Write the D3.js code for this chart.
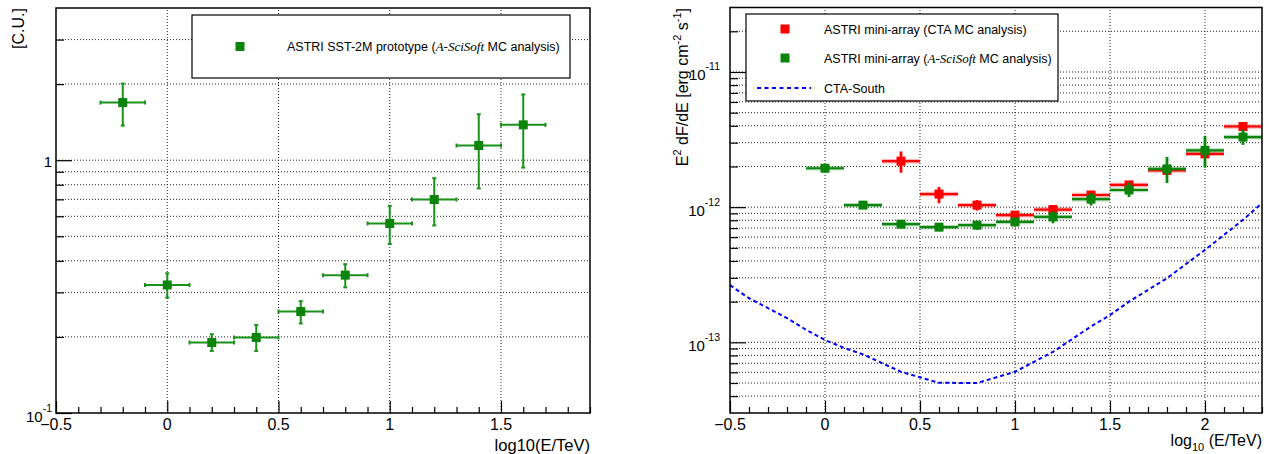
<!DOCTYPE html>
<html lang="en">
<head>
<meta charset="UTF-8">
<title>ASTRI sensitivity</title>
<script src="https://d3js.org/d3.v7.min.js"></script>
<style>
  body { margin: 0; background: #fff; }
  svg { display: block; font-family: 'Liberation Sans', Arial, sans-serif; }
  .grid { stroke: #222; stroke-width: 1; stroke-dasharray: 1,2; fill: none; }
  .frame { fill: none; stroke: #000; stroke-width: 1.5; }
  .tick line { stroke: #000; stroke-width: 1.2; }
  .lbl { font-size: 16px; fill: #000; }
  .leg { font-size: 12.5px; fill: #000; }
  .it { font-family: 'Liberation Serif', 'DejaVu Serif', serif; font-style: italic; font-size: 13px; }
</style>
</head>
<body>
<svg width="1269" height="454"></svg>
<script>
// ---- left panel: crab rate in C.U.
const leftE = [-0.2, 0, 0.2, 0.4, 0.6, 0.8, 1.0, 1.2, 1.4, 1.6];
const leftCU = [1.69, 0.321, 0.190, 0.199, 0.252, 0.351, 0.562, 0.699, 1.143, 1.38];
const leftLow = [1.37, 0.286, 0.176, 0.176, 0.226, 0.314, 0.466, 0.552, 0.773, 0.935];
const leftHigh = [2.01, 0.357, 0.205, 0.223, 0.277, 0.388, 0.660, 0.849, 1.52, 1.82];
const binHalf = 0.1;

// ---- right panel: E^2 dF/dE in units of 1e-12 erg cm-2 s-1
const ctaMcE = [0.4, 0.6, 0.8, 1.0, 1.2, 1.4, 1.6, 1.8, 2.0, 2.2];
const ctaMcF = [2.19, 1.25, 1.035, 0.873, 0.96, 1.23, 1.46, 1.87, 2.48, 3.95];
const ctaMcLow = [1.80, 1.07, 0.944, 0.84, 0.92, 1.18, 1.38, 1.75, 2.35, 3.75];
const ctaMcHigh = [2.58, 1.41, 1.13, 0.91, 1.00, 1.29, 1.54, 1.99, 2.68, 4.2];

const sciE = [0, 0.2, 0.4, 0.6, 0.8, 1.0, 1.2, 1.4, 1.6, 1.8, 2.0, 2.2];
const sciF = [1.94, 1.035, 0.748, 0.711, 0.736, 0.778, 0.847, 1.146, 1.34, 1.92, 2.63, 3.30];
const sciLow = [1.88, 1.00, 0.72, 0.69, 0.68, 0.74, 0.76, 1.03, 1.19, 1.51, 1.96, 2.89];
const sciHigh = [2.00, 1.07, 0.78, 0.74, 0.79, 0.82, 0.93, 1.27, 1.52, 2.35, 3.37, 3.74];

const southE = [-0.5, -0.4, -0.3, -0.2, -0.1, 0, 0.1, 0.2, 0.4, 0.6, 0.8, 1.0, 1.2, 1.4, 1.5, 1.6, 1.8, 2.0, 2.2, 2.3];
const southF = [0.265, 0.212, 0.179, 0.151, 0.124, 0.104, 0.091, 0.0815, 0.0605, 0.0502, 0.050, 0.0605, 0.085, 0.131, 0.159, 0.200, 0.298, 0.483, 0.805, 1.07];

const leftXTicks = [-0.5, 0, 0.5, 1, 1.5];
const rightXTicks = [-0.5, 0, 0.5, 1, 1.5, 2];

const svg = d3.select("svg");
const green = "#0b840b", greenBar = "#1a921a", red = "#ff0000";

function decadeMinors(lo, hi) {
    const out = [];
    for (let p = Math.floor(Math.log10(lo)); p <= Math.ceil(Math.log10(hi)); p++)
        for (let k = 1; k < 10; k++) {
            const v = k * Math.pow(10, p);
            if (v > lo * 1.0001 && v < hi * 0.9999) out.push(v);
        }
    return out;
}

function xTicksMinor(lo, hi) {
    const out = [];
    for (let i = Math.round(lo * 10); i <= Math.round(hi * 10); i++)
        if (i % 5 !== 0) out.push(i / 10);
    return out;
}

function panel(x, y, xMajor, yLabels) {
    const g = svg.append("g");
    const [x0, x1] = x.range();
    const [y0, y1] = y.range();
    // grid
    g.selectAll(".vg").data(xMajor.filter(v => v > x.domain()[0] + 1e-9))
        .enter().append("line").attr("class", "grid")
        .attr("x1", d => x(d)).attr("x2", d => x(d)).attr("y1", y0).attr("y2", y1);
    g.selectAll(".hg").data(decadeMinors(...y.domain()))
        .enter().append("line").attr("class", "grid")
        .attr("x1", x0).attr("x2", x1).attr("y1", d => y(d)).attr("y2", d => y(d));
    // ticks
    const minorX = xTicksMinor(...x.domain());
    g.append("g").attr("transform", `translate(0,${y0})`)
        .call(d3.axisBottom(x).tickValues(minorX).tickSize(-6).tickFormat(""))
        .call(a => a.select(".domain").remove());
    g.append("g").attr("transform", `translate(0,${y0})`)
        .call(d3.axisBottom(x).tickValues(xMajor).tickSize(-12).tickFormat(""))
        .call(a => a.select(".domain").remove());
    const majY = yLabels.map(d => d.v);
    g.append("g").attr("transform", `translate(${x0},0)`)
        .call(d3.axisLeft(y).tickValues(decadeMinors(...y.domain()).filter(v => !majY.some(m => Math.abs(m / v - 1) < 1e-6))).tickSize(-8).tickFormat(""))
        .call(a => a.select(".domain").remove());
    g.append("g").attr("transform", `translate(${x0},0)`)
        .call(d3.axisLeft(y).tickValues(majY).tickSize(-16).tickFormat(""))
        .call(a => a.select(".domain").remove());
    // x labels
    g.selectAll(".xl").data(xMajor).enter().append("text").attr("class", "lbl")
        .attr("x", d => x(d)).attr("y", y0 + 17).attr("text-anchor", "middle")
        .text(d => d3.format("")(d));
    // y labels
    yLabels.forEach(d => {
        const t = g.append("text").attr("class", "lbl").style("font-size", "15px")
            .attr("text-anchor", "end").attr("x", d.x).attr("y", y(d.v) + d.dy);
        if (d.exp === null) t.text(d.base);
        else {
            t.append("tspan").text(d.base);
            t.append("tspan").attr("dy", -10).style("font-size", "10.5px").text(d.exp);
        }
    });
    return g;
}

// ================= LEFT =================
const xL = d3.scaleLinear().domain([-0.5, 1.9]).range([56, 590]);
const yL = d3.scaleLog().domain([0.1, 4]).range([413, 8]);
const gL = panel(xL, yL, leftXTicks, [
    {v: 1, base: "1", exp: null, x: 52, dy: 6.5},
    {v: 0.1, base: "10", exp: "-1", x: 52, dy: 9}
]);

const leftPts = leftE.map((e, i) => ({e, v: leftCU[i], lo: leftLow[i], hi: leftHigh[i]}));
const cap = 2;
const lp = gL.selectAll(".lp").data(leftPts).enter().append("g")
    .attr("stroke", greenBar).attr("stroke-width", 2);
lp.append("line").attr("x1", d => xL(d.e - binHalf)).attr("x2", d => xL(d.e + binHalf))
    .attr("y1", d => yL(d.v)).attr("y2", d => yL(d.v));
lp.append("line").attr("x1", d => xL(d.e)).attr("x2", d => xL(d.e))
    .attr("y1", d => yL(d.lo)).attr("y2", d => yL(d.hi));
lp.append("line").attr("x1", d => xL(d.e - binHalf)).attr("x2", d => xL(d.e - binHalf))
    .attr("y1", d => yL(d.v) - cap).attr("y2", d => yL(d.v) + cap);
lp.append("line").attr("x1", d => xL(d.e + binHalf)).attr("x2", d => xL(d.e + binHalf))
    .attr("y1", d => yL(d.v) - cap).attr("y2", d => yL(d.v) + cap);
lp.append("line").attr("x1", d => xL(d.e) - cap).attr("x2", d => xL(d.e) + cap)
    .attr("y1", d => yL(d.hi)).attr("y2", d => yL(d.hi));
lp.append("line").attr("x1", d => xL(d.e) - cap).attr("x2", d => xL(d.e) + cap)
    .attr("y1", d => yL(d.lo)).attr("y2", d => yL(d.lo));
gL.selectAll(".lm").data(leftPts).enter().append("rect")
    .attr("x", d => xL(d.e) - 4.5).attr("y", d => yL(d.v) - 4.5)
    .attr("width", 9).attr("height", 9).attr("fill", green);

gL.append("rect").attr("class", "frame").attr("x", 56).attr("y", 8).attr("width", 534).attr("height", 405);

// legend left
gL.append("rect").attr("x", 192).attr("y", 15).attr("width", 378).attr("height", 63)
    .attr("fill", "#fff").attr("stroke", "#000").attr("stroke-width", 1.2);
gL.append("rect").attr("x", 235.5).attr("y", 42).attr("width", 9).attr("height", 9).attr("fill", green);
const tl = gL.append("text").attr("class", "leg").attr("x", 287).attr("y", 51);
tl.append("tspan").text("ASTRI SST-2M prototype (");
tl.append("tspan").attr("class", "it").text("A-SciSoft");
tl.append("tspan").text(" MC analysis)");

gL.append("text").attr("class", "lbl").attr("transform", "translate(24,8) rotate(-90)")
    .attr("text-anchor", "end").text("[C.U.]");
gL.append("text").attr("class", "lbl").style("font-size", "16.5px").attr("x", 590).attr("y", 451)
    .attr("text-anchor", "end").text("log10(E/TeV)");

// ================= RIGHT =================
const unit = 1e-12;
const xR = d3.scaleLinear().domain([-0.5, 2.3]).range([730, 1262]);
const yR = d3.scaleLog().domain([3e-14, 3e-11]).range([413, 7.5]);
const gR = panel(xR, yR, rightXTicks, [
    {v: 1e-11, base: "10", exp: "-11", x: 720, dy: 8.5},
    {v: 1e-12, base: "10", exp: "-12", x: 720, dy: 8.5},
    {v: 1e-13, base: "10", exp: "-13", x: 720, dy: 8.5}
]);

const southLine = d3.line().x((d, i) => xR(southE[i])).y(d => yR(d * unit));
gR.append("path").datum(southF).attr("d", southLine).attr("fill", "none")
    .attr("stroke", "#0000ff").attr("stroke-width", 2).attr("stroke-dasharray", "4,3");

function seriesR(E, F, lo, hi, col) {
    const pts = E.map((e, i) => ({e, v: F[i] * unit, lo: lo[i] * unit, hi: hi[i] * unit}));
    const s = gR.append("g");
    const b = s.selectAll("g").data(pts).enter().append("g");
    [[4.5, 0.3], [2.2, 1]].forEach(([w, op]) => {
        b.append("line").attr("stroke", col).attr("stroke-width", w).attr("stroke-opacity", op)
            .attr("x1", d => xR(d.e - binHalf)).attr("x2", d => xR(Math.min(d.e + binHalf, 2.3)))
            .attr("y1", d => yR(d.v)).attr("y2", d => yR(d.v));
        b.append("line").attr("stroke", col).attr("stroke-width", w).attr("stroke-opacity", op)
            .attr("x1", d => xR(d.e)).attr("x2", d => xR(d.e))
            .attr("y1", d => yR(d.lo)).attr("y2", d => yR(d.hi));
    });
    s.selectAll("rect").data(pts).enter().append("rect")
        .attr("x", d => xR(d.e) - 4.5).attr("y", d => yR(d.v) - 4.5)
        .attr("width", 9).attr("height", 9).attr("fill", col);
}
seriesR(ctaMcE, ctaMcF, ctaMcLow, ctaMcHigh, red);
seriesR(sciE, sciF, sciLow, sciHigh, green);

gR.append("rect").attr("class", "frame").attr("x", 730).attr("y", 7.5).attr("width", 532).attr("height", 405.5);

// legend right
gR.append("rect").attr("x", 746).attr("y", 14).attr("width", 312).attr("height", 87)
    .attr("fill", "#fff").attr("stroke", "#000").attr("stroke-width", 1.2);
gR.append("rect").attr("x", 780.5).attr("y", 24.5).attr("width", 9).attr("height", 9).attr("fill", red);
gR.append("rect").attr("x", 780.5).attr("y", 53.5).attr("width", 9).attr("height", 9).attr("fill", green);
gR.append("line").attr("x1", 757).attr("x2", 811).attr("y1", 88).attr("y2", 88)
    .attr("stroke", "#0000ff").attr("stroke-width", 2).attr("stroke-dasharray", "4,3.5");
gR.append("text").attr("class", "leg").attr("x", 824).attr("y", 33.5).text("ASTRI mini-array (CTA MC analysis)");
const tr = gR.append("text").attr("class", "leg").attr("x", 824).attr("y", 62.5);
tr.append("tspan").text("ASTRI mini-array (");
tr.append("tspan").attr("class", "it").text("A-SciSoft");
tr.append("tspan").text(" MC analysis)");
gR.append("text").attr("class", "leg").attr("x", 824).attr("y", 92.5).text("CTA-South");

const yt = gR.append("text").attr("class", "lbl").attr("transform", "translate(688,8) rotate(-90)")
    .attr("text-anchor", "end");
yt.append("tspan").text("E");
yt.append("tspan").attr("dy", -7).style("font-size", "11px").text("2");
yt.append("tspan").attr("dy", 7).text(" dF/dE [erg cm");
yt.append("tspan").attr("dy", -7).style("font-size", "11px").text("-2");
yt.append("tspan").attr("dy", 7).text(" s");
yt.append("tspan").attr("dy", -7).style("font-size", "11px").text("-1");
yt.append("tspan").attr("dy", 7).text("]");

const xt = gR.append("text").attr("class", "lbl").attr("x", 1262).attr("y", 446).attr("text-anchor", "end");
xt.append("tspan").text("log");
xt.append("tspan").attr("dy", 5).style("font-size", "11px").text("10");
xt.append("tspan").attr("dy", -5).text(" (E/TeV)");
</script>
</body>
</html>
